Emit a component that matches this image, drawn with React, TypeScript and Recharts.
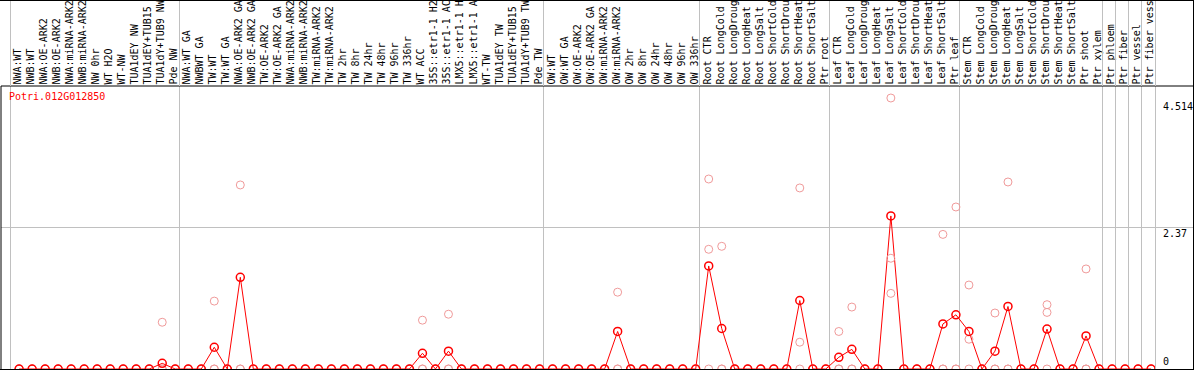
import { ComposedChart, Line, Scatter, XAxis, YAxis, ReferenceLine } from "recharts";

const geneId = "Potri.012G012850";

// sample names as printed in the header (cut to the space available)
const sampleLabels = [
  "NWA:WT", "NWB:WT", "NWA:OE-ARK2", "NWB:OE-ARK2", "NWA:miRNA-ARK2", "NWB:miRNA-ARK2", "NW 0hr",
  "WT H2O", "WT-NW", "TUA1dEY NW", "TUA1dEY+TUB15", "TUA1dY+TUB9 NW", "Pde NW",
  "NWA:WT GA", "NWBWT GA", "TW:WT", "TW:WT GA", "NWA:OE-ARK2 GA", "NWB:OE-ARK2 GA", "TW:OE-ARK2",
  "TW:OE-ARK2 GA", "NWA:miRNA-ARK2", "NWB:miRNA-ARK2", "TW:miRNA-ARK2", "TW:miRNA-ARK2",
  "TW 2hr", "TW 8hr", "TW 24hr", "TW 48hr", "TW 96hr", "TW 336hr", "WT ACC", "35S::etr1-1 H2",
  "35S::etr1-1 AC", "LMX5::etr1-1 H", "LMX5::etr1-1 A", "WT-TW", "TUA1dEY TW", "TUA1dEY+TUB15",
  "TUA1dY+TUB9 TW", "Pde TW",
  "OW:WT", "OW:WT GA", "OW:OE-ARK2", "OW:OE-ARK2 GA", "OW:miRNA-ARK2", "OW:miRNA-ARK2",
  "OW 2hr", "OW 8hr", "OW 24hr", "OW 48hr", "OW 96hr", "OW 336hr",
  "Root CTR", "Root LongCold", "Root LongDroug", "Root LongHeat", "Root LongSalt", "Root ShortCold",
  "Root ShortDrou", "Root ShortHeat", "Root ShortSalt", "Ptr root",
  "Leaf CTR", "Leaf LongCold", "Leaf LongDroug", "Leaf LongHeat", "Leaf LongSalt", "Leaf ShortCold",
  "Leaf ShortDrou", "Leaf ShortHeat", "Leaf ShortSalt", "Ptr leaf",
  "Stem CTR", "Stem LongCold", "Stem LongDroug", "Stem LongHeat", "Stem LongSalt", "Stem ShortCold",
  "Stem ShortDrou", "Stem ShortHeat", "Stem ShortSalt", "Ptr shoot", "Ptr xylem",
  "Ptr phloem", "Ptr fiber", "Ptr vessel", "Ptr fiber vess",
];

// column index where each sample group starts (last = end of the table)
const groupStarts = [0, 13, 41, 53, 63, 73, 84, 85, 86, 87, 88];

// mean expression per sample
const meanExpr = [
  0, 0, 0, 0, 0, 0, 0, 0, 0, 0, 0, 0.095, 0,
  0, 0, 0.365, 0, 1.54, 0, 0, 0, 0, 0, 0, 0, 0, 0, 0, 0, 0, 0, 0.264, 0, 0.3, 0, 0, 0, 0, 0, 0, 0,
  0, 0, 0, 0, 0, 0.63, 0, 0, 0, 0, 0, 0,
  1.73, 0.68, 0, 0, 0, 0, 0, 1.15, 0, 0,
  0.197, 0.33, 0, 0, 2.57, 0, 0, 0, 0.756, 0.91,
  0.63, 0, 0.3, 1.05, 0, 0, 0.67, 0, 0, 0.555, 0,
  0, 0, 0, 0,
];

// individual replicates
const repA = [
  0, 0, 0, 0, 0, 0, 0, 0, 0, 0, 0, 0.785, 0,
  0, 0, 1.14, 0, 3.09, 0, 0, 0, 0, 0, 0, 0, 0, 0, 0, 0, 0, 0, 0.82, 0, 0.92, 0, 0, 0, 0, 0, 0, 0,
  0, 0, 0, 0, 0, 1.29, 0, 0, 0, 0, 0, 0,
  3.19, 2.06, 0, 0, 0, 0, 0, 3.04, 0, 0,
  0.63, 1.04, 0, 0, 4.55, 0, 0, 0, 2.26, 2.72,
  1.41, 0, 0.94, 3.14, 0, 0, 1.08, 0, 0, 1.68, 0,
  0, 0, 0, 0,
];
const repB = [
  0, 0, 0, 0, 0, 0, 0, 0, 0, 0, 0, 0, 0,
  0, 0, 0, 0, 0, 0, 0, 0, 0, 0, 0, 0, 0, 0, 0, 0, 0, 0, 0, 0, 0, 0, 0, 0, 0, 0, 0, 0,
  0, 0, 0, 0, 0, 0, 0, 0, 0, 0, 0, 0,
  2.01, 0, 0, 0, 0, 0, 0, 0.45, 0, 0,
  0, 0, 0, 0, 1.86, 0, 0, 0, 0, 0,
  0.5, 0, 0, 0, 0, 0, 0.95, 0, 0, 0, 0,
  0, 0, 0, 0,
];
const repC = [
  0, 0, 0, 0, 0, 0, 0, 0, 0, 0, 0, 0, 0,
  0, 0, 0, 0, 0, 0, 0, 0, 0, 0, 0, 0, 0, 0, 0, 0, 0, 0, 0, 0, 0, 0, 0, 0, 0, 0, 0, 0,
  0, 0, 0, 0, 0, 0, 0, 0, 0, 0, 0, 0,
  0, 0, 0, 0, 0, 0, 0, 0, 0, 0,
  0, 0, 0, 0, 1.27, 0, 0, 0, 0, 0,
  0, 0, 0, 0, 0, 0, 0, 0, 0, 0, 0,
  0, 0, 0, 0,
];

const topTick = 4.514;
const yTickLabels = ["0", "2.37", "4.514"];

const W = 1194;
const H = 370;
const HEADER = 86;
const PAD_L = 9;
const PAD_R = 38;
const markShift = 0.7; // marks sit a bit right of the column start
const colPx = (W - 2 - PAD_L - PAD_R) / sampleLabels.length;
const yMax = topTick / 0.95;
const yTicks = [0, yMax / 2, topTick];
const FONT = "'DejaVu Sans Mono', monospace";
const GRID = "#c0c0c0";
const RED = "#ff0000";
const PINK = "#f09a9a";

const data = sampleLabels.map((name, i) => ({
  pos: i + markShift,
  name,
  mean: meanExpr[i],
  a: repA[i],
  b: repB[i],
  c: repC[i],
}));

const boundaryTicks = sampleLabels.map((_, i) => i).concat(sampleLabels.length);

function HeaderTick(props: any) {
  const { x, payload } = props;
  const k = payload.value;
  const label = sampleLabels[k];
  return (
    <g>
      {groupStarts.includes(k) && (
        <line x1={x} x2={x} y1={0} y2={HEADER} stroke={GRID} shapeRendering="crispEdges" />
      )}
      {label && (
        <text
          transform={`translate(${x + colPx * markShift + 2},${HEADER - 1.5}) rotate(-90)`}
          fontFamily={FONT}
          fontSize={10}
          fill="#000"
        >
          {label}
        </text>
      )}
    </g>
  );
}

function ValueLabel(props: any) {
  const vb = props.viewBox || {};
  const right = vb.x + vb.width;
  return (
    <text x={right - 30} y={Math.min(vb.y + 9.5, H - 5)} fontFamily={FONT} fontSize={10} fill="#000">
      {props.text}
    </text>
  );
}

const repShape = (props: any) => (
  <circle cx={props.cx} cy={props.cy} r={4} fill="none" stroke={PINK} strokeWidth={1} />
);

export default function App() {
  return (
    <div style={{ position: "absolute", left: 0, top: 0, width: W, height: H, background: "#fff" }}>
      <ComposedChart width={W} height={H} data={data} margin={{ top: 0, right: 1, bottom: 1, left: 0 }}>
        <XAxis
          type="number"
          dataKey="pos"
          domain={[0, sampleLabels.length]}
          ticks={boundaryTicks}
          interval={0}
          orientation="top"
          height={HEADER}
          padding={{ left: PAD_L, right: PAD_R }}
          axisLine={{ stroke: "#000" }}
          tickLine={false}
          tickSize={0}
          tickMargin={0}
          tick={(p: any) => <HeaderTick {...p} />}
          allowDataOverflow
        />
        <YAxis
          yAxisId="l"
          width={1}
          domain={[0, yMax]}
          allowDataOverflow
          tick={false}
          tickLine={false}
          axisLine={{ stroke: "#000" }}
        />
        <ReferenceLine yAxisId="l" y={yMax / 2} stroke={GRID} shapeRendering="crispEdges" />
        {groupStarts.map((g) => (
          <ReferenceLine key={g} yAxisId="l" x={g} stroke={GRID} ifOverflow="visible" shapeRendering="crispEdges" />
        ))}
        {yTicks.map((v, i) => (
          <ReferenceLine
            key={`t${i}`}
            yAxisId="l"
            y={v}
            stroke="none"
            label={<ValueLabel text={yTickLabels[i]} />}
          />
        ))}
        <Scatter yAxisId="l" dataKey="a" shape={repShape} isAnimationActive={false} />
        <Scatter yAxisId="l" dataKey="b" shape={repShape} isAnimationActive={false} />
        <Scatter yAxisId="l" dataKey="c" shape={repShape} isAnimationActive={false} />
        <Line
          yAxisId="l"
          dataKey="mean"
          stroke={RED}
          strokeWidth={1}
          dot={{ r: 4, stroke: RED, strokeWidth: 1.5, fill: "none" }}
          activeDot={false}
          isAnimationActive={false}
        />
      </ComposedChart>
      <div
        style={{
          position: "absolute",
          left: 0,
          top: 0,
          width: W,
          height: H,
          boxSizing: "border-box",
          borderTop: "1px solid #000",
          borderRight: "1px solid #000",
          borderBottom: "1px solid #000",
          pointerEvents: "none",
        }}
      />
      <div
        style={{
          position: "absolute",
          left: 9,
          top: 92,
          fontFamily: FONT,
          fontSize: 10,
          lineHeight: "10px",
          color: RED,
          whiteSpace: "nowrap",
        }}
      >
        {geneId}
      </div>
    </div>
  );
}
